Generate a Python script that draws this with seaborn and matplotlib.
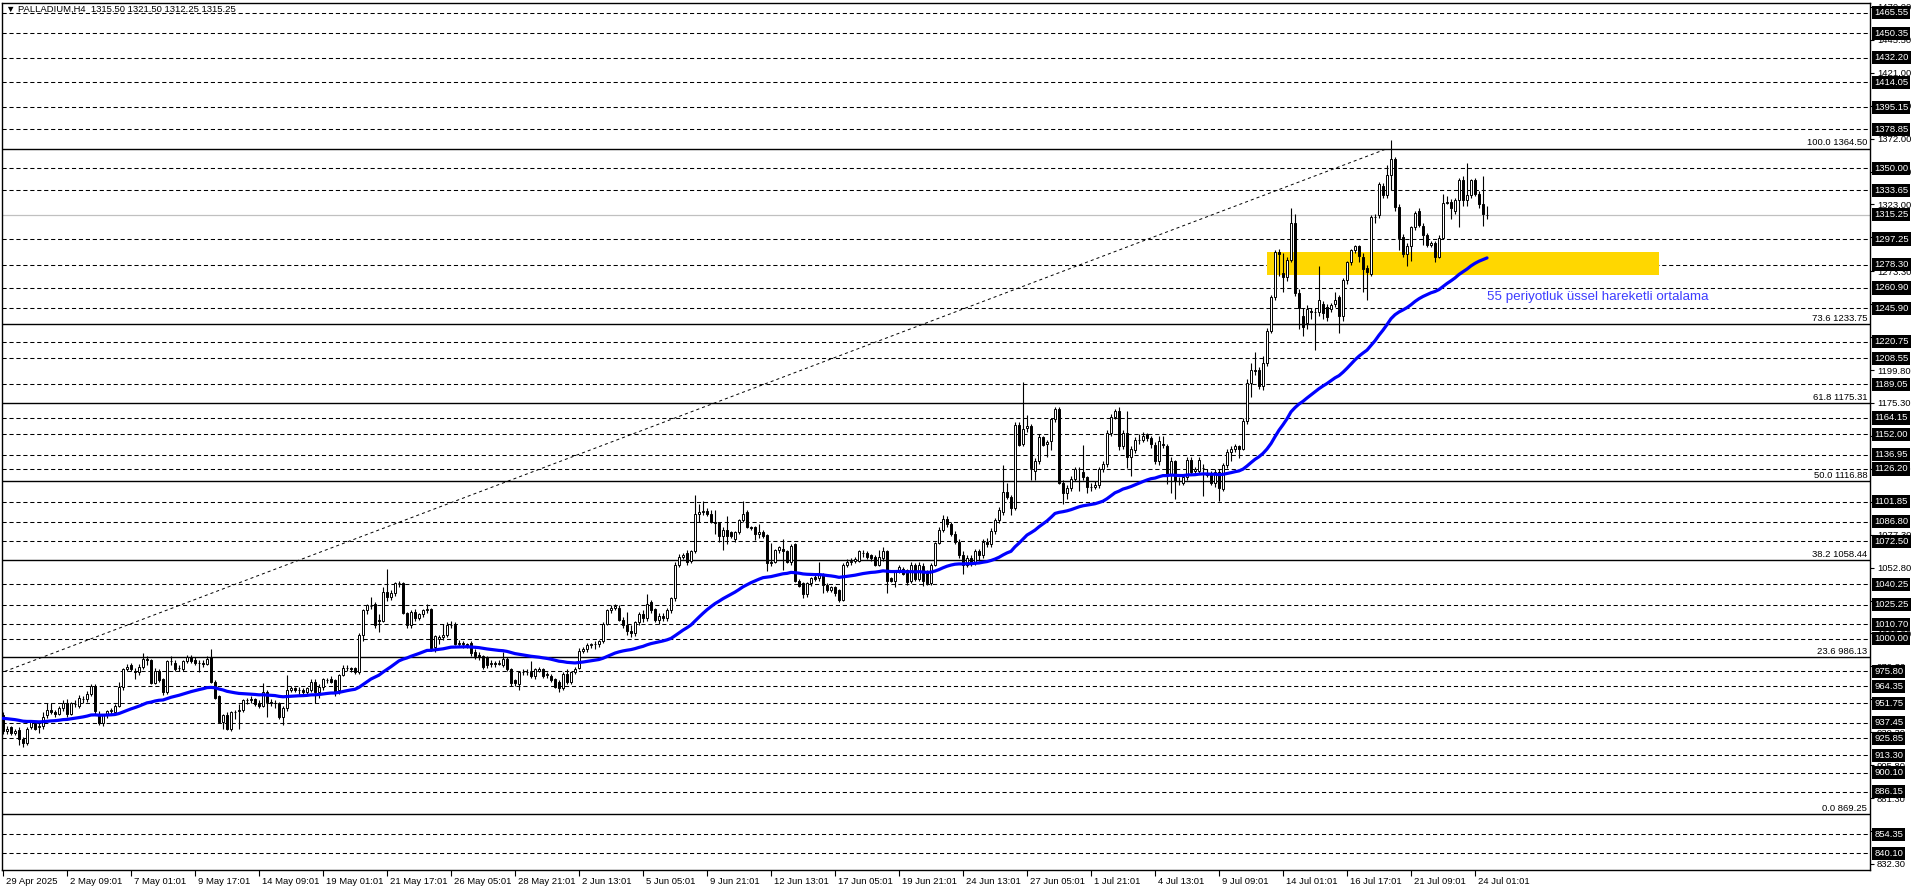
import numpy as np
import pandas as pd
import matplotlib
matplotlib.use('Agg')
import matplotlib.pyplot as plt
import matplotlib.transforms as mtrans
from matplotlib.patches import Rectangle
import seaborn as sns

## H4 bars 29 Apr 2025 -> 24 Jul 2025
bar_open = [
    943, 931, 934, 930, 932, 925, 922, 934, 937, 934,
    935, 943, 947, 945, 944, 948, 952, 944, 951, 950,
    955, 955, 959, 965, 944, 937, 943, 946, 945, 950,
    964, 977, 980, 976, 975, 979, 985, 984, 967, 976,
    970, 960, 983, 982, 978, 977, 983, 986, 984, 982,
    982, 981, 986, 968, 957, 938, 943, 933, 945, 946,
    947, 954, 954, 955, 952, 950, 960, 953, 952, 952,
    942, 948, 962, 963, 962, 962, 960, 962, 968, 960,
    964, 969, 970, 969, 962, 973, 978, 978, 978, 975,
    1003, 1021, 1024, 1026, 1014, 1013, 1035, 1031, 1034, 1041,
    1041, 1019, 1010, 1020, 1015, 1018, 1021, 1022, 994, 1000,
    1001, 1003, 1010, 1010, 996, 997, 996, 997, 990, 988,
    987, 986, 981, 982, 981, 980, 985, 977, 969, 966,
    975, 975, 975, 972, 976, 977, 973, 972, 970, 968,
    963, 974, 968, 975, 978, 991, 992, 995, 996, 996,
    998, 1011, 1021, 1023, 1023, 1014, 1010, 1006, 1004, 1012,
    1018, 1015, 1027, 1022, 1014, 1017, 1015, 1021, 1030, 1055,
    1061, 1064, 1058, 1065, 1093, 1094, 1095, 1093, 1087, 1086,
    1076, 1081, 1079, 1074, 1079, 1088, 1094, 1083, 1083, 1078,
    1079, 1077, 1056, 1057, 1066, 1067, 1065, 1057, 1070, 1043,
    1041, 1033, 1041, 1046, 1045, 1047, 1040, 1036, 1038, 1036,
    1029, 1055, 1057, 1058, 1058, 1064, 1064, 1062, 1061, 1055,
    1060, 1065, 1045, 1043, 1050, 1052, 1051, 1043, 1055, 1044,
    1054, 1050, 1041, 1055, 1071, 1081, 1089, 1085, 1078, 1072,
    1062, 1055, 1060, 1056, 1065, 1062, 1072, 1070, 1080, 1088,
    1094, 1109, 1105, 1097, 1159, 1145, 1157, 1158, 1125, 1132,
    1150, 1145, 1147, 1163, 1171, 1116, 1108, 1112, 1119, 1126,
    1124, 1120, 1113, 1113, 1114, 1126, 1130, 1153, 1165, 1169,
    1143, 1153, 1135, 1140, 1148, 1148, 1152, 1149, 1144, 1132,
    1145, 1143, 1122, 1132, 1117, 1116, 1120, 1133, 1125, 1125,
    1127, 1123, 1123, 1116, 1124, 1111, 1129, 1139, 1141, 1143,
    1141, 1162, 1190, 1200, 1200, 1188, 1205, 1229, 1254, 1288,
    1272, 1269, 1282, 1309, 1257, 1240, 1235, 1244, 1243, 1243,
    1249, 1247, 1245, 1249, 1254, 1240, 1267, 1280, 1289, 1292,
    1284, 1276, 1271, 1314, 1315, 1337, 1330, 1345, 1357, 1321,
    1299, 1286, 1292, 1306, 1318, 1307, 1300, 1293, 1294, 1284,
    1298, 1324, 1325, 1318, 1326, 1341, 1326, 1330, 1341, 1331,
    1323, 1315.5]
bar_high = [
    945, 935, 935, 933, 934, 927, 934, 939, 939, 937,
    945, 952, 952, 947, 950, 954, 955, 953, 954, 958,
    957, 961, 966, 966, 946, 944, 947, 948, 951, 968,
    978, 981, 982, 978, 981, 989, 987, 985, 978, 977,
    971, 984, 987, 984, 980, 984, 988, 988, 986, 984,
    984, 987, 992, 969, 958, 944, 945, 946, 947, 951,
    955, 956, 957, 956, 954, 967, 962, 955, 954, 953,
    950, 973, 965, 964, 964, 963, 964, 970, 970, 966,
    971, 971, 972, 970, 974, 980, 980, 979, 979, 1004,
    1022, 1026, 1031, 1027, 1018, 1038, 1052, 1036, 1042, 1043,
    1042, 1020, 1021, 1022, 1019, 1022, 1026, 1023, 1003, 1003,
    1011, 1012, 1013, 1012, 999, 998, 997, 998, 992, 990,
    988, 987, 984, 983, 984, 990, 986, 978, 970, 976,
    977, 977, 983, 978, 979, 978, 975, 974, 971, 969,
    975, 977, 976, 979, 993, 994, 997, 997, 998, 999,
    1012, 1022, 1025, 1026, 1025, 1016, 1020, 1010, 1013, 1020,
    1021, 1033, 1029, 1023, 1019, 1019, 1023, 1031, 1057, 1063,
    1064, 1066, 1066, 1107, 1100, 1102, 1097, 1096, 1096, 1087,
    1083, 1091, 1080, 1080, 1089, 1102, 1096, 1084, 1084, 1085,
    1081, 1078, 1071, 1067, 1069, 1074, 1066, 1070, 1071, 1044,
    1042, 1042, 1046, 1047, 1057, 1049, 1041, 1039, 1039, 1037,
    1056, 1059, 1060, 1061, 1066, 1066, 1065, 1063, 1062, 1066,
    1068, 1066, 1046, 1051, 1055, 1053, 1052, 1057, 1056, 1057,
    1056, 1051, 1056, 1072, 1083, 1092, 1091, 1087, 1080, 1074,
    1065, 1062, 1062, 1067, 1067, 1074, 1075, 1082, 1090, 1098,
    1129, 1116, 1107, 1161, 1161, 1191, 1166, 1160, 1134, 1152,
    1151, 1148, 1164, 1172, 1172, 1118, 1114, 1121, 1128, 1128,
    1144, 1121, 1116, 1117, 1128, 1132, 1155, 1167, 1171, 1172,
    1155, 1169, 1143, 1150, 1152, 1154, 1153, 1151, 1146, 1151,
    1151, 1145, 1135, 1133, 1120, 1122, 1135, 1135, 1128, 1135,
    1130, 1126, 1125, 1126, 1126, 1131, 1141, 1143, 1145, 1144,
    1164, 1193, 1205, 1213, 1202, 1210, 1231, 1256, 1289, 1290,
    1287, 1284, 1320, 1316, 1260, 1246, 1248, 1246, 1246, 1277,
    1251, 1249, 1250, 1258, 1256, 1268, 1281, 1290, 1293, 1293,
    1287, 1278, 1315, 1316, 1340, 1339, 1352, 1371, 1358, 1323,
    1301, 1294, 1307, 1318, 1320, 1309, 1302, 1296, 1296, 1300,
    1331, 1329, 1327, 1328, 1343, 1344, 1354, 1342, 1343, 1333,
    1344, 1321.5]
bar_low = [
    929, 929, 928, 928, 921, 919, 921, 933, 932, 930,
    933, 941, 944, 942, 943, 946, 942, 943, 949, 948,
    952, 953, 957, 944, 936, 935, 941, 944, 944, 949,
    962, 976, 976, 970, 973, 977, 980, 966, 966, 968,
    958, 959, 980, 976, 976, 976, 982, 982, 980, 975,
    979, 980, 967, 955, 937, 933, 932, 931, 940, 933,
    945, 951, 952, 950, 948, 949, 942, 950, 948, 940,
    936, 946, 960, 960, 959, 957, 958, 960, 952, 956,
    962, 967, 967, 957, 959, 972, 976, 975, 974, 974,
    998, 1018, 1022, 1008, 1005, 1012, 1028, 1029, 1032, 1038,
    1018, 1008, 1008, 1013, 1014, 1016, 1019, 991, 990, 996,
    999, 1001, 1008, 995, 994, 993, 993, 987, 985, 984,
    977, 978, 979, 979, 980, 979, 976, 965, 965, 962,
    973, 973, 971, 970, 975, 971, 971, 968, 963, 960,
    962, 966, 966, 974, 977, 989, 990, 993, 992, 994,
    997, 1010, 1019, 1021, 1013, 1008, 1003, 1001, 1002, 1010,
    1012, 1013, 1019, 1012, 1011, 1013, 1013, 1019, 1028, 1053,
    1059, 1055, 1056, 1064, 1087, 1092, 1091, 1086, 1078, 1072,
    1066, 1070, 1075, 1072, 1078, 1087, 1082, 1081, 1073, 1075,
    1075, 1050, 1054, 1056, 1064, 1051, 1056, 1055, 1042, 1038,
    1030, 1031, 1039, 1043, 1043, 1034, 1035, 1035, 1032, 1027,
    1028, 1053, 1055, 1056, 1057, 1061, 1059, 1058, 1054, 1054,
    1058, 1034, 1042, 1038, 1049, 1047, 1040, 1041, 1043, 1043,
    1039, 1040, 1040, 1054, 1070, 1079, 1083, 1076, 1070, 1060,
    1048, 1053, 1054, 1055, 1058, 1060, 1068, 1068, 1078, 1086,
    1092, 1104, 1092, 1096, 1143, 1143, 1154, 1118, 1118, 1130,
    1143, 1135, 1140, 1161, 1115, 1100, 1104, 1110, 1117, 1110,
    1118, 1108, 1110, 1111, 1112, 1124, 1128, 1151, 1163, 1140,
    1141, 1127, 1121, 1138, 1145, 1146, 1147, 1142, 1130, 1129,
    1142, 1115, 1108, 1104, 1114, 1114, 1118, 1122, 1123, 1123,
    1106, 1120, 1114, 1113, 1102, 1110, 1127, 1132, 1139, 1134,
    1140, 1160, 1180, 1196, 1186, 1185, 1203, 1227, 1252, 1270,
    1258, 1266, 1280, 1255, 1230, 1225, 1230, 1238, 1215, 1240,
    1238, 1236, 1243, 1247, 1227, 1236, 1264, 1278, 1287, 1280,
    1258, 1252, 1270, 1309, 1313, 1328, 1328, 1334, 1318, 1289,
    1284, 1277, 1281, 1304, 1306, 1293, 1291, 1291, 1280, 1283,
    1297, 1323, 1312, 1316, 1306, 1322, 1322, 1328, 1329, 1320,
    1307, 1312.25]
bar_close = [
    931, 933, 930, 931, 925, 922, 933, 938, 933, 935,
    942, 947, 945, 944, 948, 952, 944, 952, 951, 956,
    955, 959, 965, 946, 937, 943, 946, 947, 950, 964,
    977, 979, 977, 975, 979, 985, 984, 967, 976, 969,
    960, 983, 983, 977, 978, 983, 986, 983, 982, 982,
    981, 985, 968, 956, 938, 943, 933, 945, 945, 947,
    954, 954, 955, 951, 950, 960, 953, 952, 952, 942,
    948, 962, 963, 962, 962, 960, 963, 968, 960, 964,
    970, 969, 968, 960, 973, 978, 978, 977, 975, 1003,
    1021, 1025, 1024, 1010, 1013, 1035, 1031, 1034, 1041, 1041,
    1019, 1010, 1020, 1015, 1018, 1021, 1022, 993, 1002, 1001,
    1003, 1010, 1010, 996, 997, 996, 995, 989, 987, 986,
    979, 980, 982, 981, 982, 985, 977, 967, 967, 975,
    975, 975, 972, 977, 977, 972, 974, 969, 964, 963,
    974, 968, 975, 977, 991, 992, 995, 996, 996, 998,
    1011, 1021, 1023, 1024, 1014, 1010, 1006, 1004, 1012, 1018,
    1015, 1026, 1021, 1014, 1017, 1015, 1021, 1030, 1055, 1061,
    1062, 1057, 1065, 1093, 1094, 1095, 1093, 1087, 1086, 1076,
    1081, 1076, 1076, 1079, 1088, 1093, 1083, 1082, 1078, 1079,
    1076, 1056, 1057, 1066, 1068, 1065, 1057, 1069, 1043, 1039,
    1033, 1041, 1045, 1044, 1048, 1040, 1036, 1038, 1034, 1029,
    1055, 1057, 1058, 1059, 1065, 1064, 1061, 1060, 1055, 1061,
    1065, 1043, 1043, 1050, 1053, 1048, 1042, 1055, 1044, 1055,
    1043, 1041, 1055, 1071, 1081, 1089, 1085, 1078, 1072, 1062,
    1055, 1060, 1056, 1065, 1062, 1072, 1070, 1080, 1088, 1096,
    1109, 1105, 1097, 1159, 1144, 1156, 1158, 1127, 1132, 1150,
    1144, 1146, 1163, 1171, 1116, 1108, 1112, 1119, 1126, 1126,
    1120, 1113, 1113, 1114, 1126, 1130, 1153, 1165, 1169, 1143,
    1153, 1135, 1141, 1148, 1148, 1151, 1149, 1145, 1132, 1147,
    1144, 1122, 1132, 1117, 1117, 1120, 1133, 1124, 1126, 1133,
    1127, 1122, 1116, 1124, 1112, 1129, 1139, 1141, 1143, 1141,
    1162, 1190, 1200, 1199, 1188, 1205, 1229, 1254, 1288, 1286,
    1269, 1282, 1309, 1257, 1246, 1232, 1245, 1243, 1243, 1252,
    1242, 1239, 1248, 1252, 1240, 1267, 1280, 1289, 1292, 1285,
    1275, 1273, 1314, 1314, 1338, 1330, 1345, 1357, 1321, 1298,
    1286, 1292, 1306, 1317, 1308, 1300, 1293, 1294, 1284, 1298,
    1324, 1325, 1320, 1326, 1341, 1326, 1330, 1341, 1331, 1323,
    1316, 1315.25]

ema_seed = 941      # EMA value at the first visible bar
ema_period = 55

## price levels drawn as dashed lines (black price boxes on the right)
dash_levels = [1465.55, 1450.35, 1432.20, 1414.05, 1395.15, 1378.85, 1350.00,
               1333.65, 1297.25, 1278.30, 1260.90, 1245.90, 1220.75, 1208.55,
               1189.05, 1164.15, 1152.00, 1136.95, 1126.20, 1101.85, 1086.80,
               1072.50, 1040.25, 1025.25, 1010.70, 1000.00, 975.80, 964.35,
               951.75, 937.45, 925.85, 913.30, 900.10, 886.15, 854.35, 840.10]
last_price = 1315.25

## fibonacci retracement
fib_ratio = ['0.0', '23.6', '38.2', '50.0', '61.8', '73.6', '100.0']
fib_price = [869.25, 986.13, 1058.44, 1116.88, 1175.31, 1233.75, 1364.50]
fib_bars = [-94, 346]

## support zone
zone_bars = [316, 414]
zone_prices = [1270.5, 1287.6]

axis_ticks = [832.30, 856.80, 881.30, 905.80, 930.30, 954.80, 979.30, 1003.80,
              1028.30, 1052.80, 1077.30, 1101.80, 1126.30, 1150.80, 1175.30,
              1199.80, 1224.30, 1248.80, 1273.30, 1298.50, 1323.00, 1347.50,
              1372.00, 1396.50, 1421.00, 1445.50, 1470.00]

date_labels = ['29 Apr 2025', '2 May 09:01', '7 May 01:01', '9 May 17:01',
               '14 May 09:01', '19 May 01:01', '21 May 17:01', '26 May 05:01',
               '28 May 21:01', '2 Jun 13:01', '5 Jun 05:01', '9 Jun 21:01',
               '12 Jun 13:01', '17 Jun 05:01', '19 Jun 21:01', '24 Jun 13:01',
               '27 Jun 05:01', '1 Jul 21:01', '4 Jul 13:01', '9 Jul 09:01',
               '14 Jul 01:01', '16 Jul 17:01', '21 Jul 09:01', '24 Jul 01:01']
label_step = 16   # bars between two date labels

title = '\u25bc PALLADIUM,H4  1315.50 1321.50 1312.25 1315.25'
ema_note = '55 periyotluk üssel hareketli ortalama'

## style
sns.set_style('white')
plt.rcParams['font.family'] = ['Liberation Sans', 'DejaVu Sans']
plt.rcParams['lines.scale_dashes'] = False
small = 6.8

W, H = 1916, 888
fig = plt.figure(figsize=(W / 100, H / 100), dpi=100)
left, right, top, bottom = 2, 1870, 3, 870
ax = fig.add_axes([left / W, (H - bottom) / H, (right - left) / W, (bottom - top) / H])

idx = np.arange(len(bar_close))
o = np.array(bar_open, dtype=float)
c = np.array(bar_close, dtype=float)

ax.set_xlim(-0.25, 466.75)
ax.set_ylim(827.8, 1472.9)

## horizontal levels
for lv in dash_levels:
    ax.axhline(lv, color='black', lw=0.75, ls=(0, (3.0, 2.0)), zorder=1)
ax.axhline(last_price, color='#c0c0c0', lw=0.9, zorder=1)
for p in fib_price:
    ax.axhline(p, color='black', lw=1.0, zorder=1)

## fibo trend line
ax.plot(fib_bars, [fib_price[0], fib_price[-1]], color='black', lw=0.7,
        ls=(0, (2.2, 2.2)), zorder=1.2)

## support zone
ax.add_patch(Rectangle((zone_bars[0], zone_prices[0]), zone_bars[1] - zone_bars[0],
                       zone_prices[1] - zone_prices[0], facecolor='#ffd700',
                       edgecolor='none', zorder=1.5))

## candles
ax.vlines(idx, bar_low, bar_high, color='black', lw=0.8, zorder=3)
body_col = np.where(c >= o, 'white', 'black')
ax.bar(idx, np.abs(c - o), bottom=np.minimum(o, c), width=0.55, color=body_col,
       edgecolor='black', linewidth=0.7, zorder=4)

## 55 EMA
ema = pd.Series([ema_seed] + list(c)).ewm(span=ema_period, adjust=False).mean().iloc[1:].to_numpy()
sns.lineplot(x=idx, y=ema, ax=ax, color='#0000ff', linewidth=2.3, sort=False, zorder=5)
ax.text(371, 1254, ema_note, color='#3c3cff', fontsize=9.6, va='center', ha='left', zorder=6)

## axes
ax.set_xlabel('')
ax.set_ylabel('')
for s in ax.spines.values():
    s.set_color('black')
    s.set_linewidth(1.0)

ax.yaxis.tick_right()
ax.set_yticks(axis_ticks)
ax.set_yticklabels(['%.2f' % t for t in axis_ticks])
ax.tick_params(axis='y', right=True, left=False, labelright=True, labelleft=False,
               length=3, width=0.8, pad=2, labelsize=small, colors='black', direction='out')

tick_pos = [k * label_step for k in range(len(date_labels))]
ax.set_xticks(tick_pos)
ax.set_xticklabels(date_labels)
ax.tick_params(axis='x', bottom=True, length=4, width=0.8, pad=1, labelsize=small,
               colors='black', direction='out')
shift = mtrans.ScaledTranslation(2 / 72, 0, fig.dpi_scale_trans)
for lab in ax.get_xticklabels():
    lab.set_ha('left')
    lab.set_transform(lab.get_transform() + shift)

## black price boxes on the right scale
box_shift = mtrans.ScaledTranslation(3 / 72, 0, fig.dpi_scale_trans)
ytr = ax.get_yaxis_transform() + box_shift
for lv in dash_levels + [last_price]:
    ax.text(1.0, lv, '%.2f' % lv, transform=ytr, ha='left', va='center',
            fontsize=small, color='white', clip_on=False, zorder=10,
            bbox=dict(facecolor='black', edgecolor='none', pad=1.5))

## fibo labels
lab_shift = mtrans.ScaledTranslation(-2 / 72, 1 / 72, fig.dpi_scale_trans)
for r, p in zip(fib_ratio, fib_price):
    ax.text(1.0, p, '%s %.2f' % (r, p), transform=ax.get_yaxis_transform() + lab_shift,
            ha='right', va='bottom', fontsize=small, color='black', zorder=6)

fig.text(6 / W, 1 - 9 / H, title, fontsize=small, va='center', ha='left', color='black')

fig.savefig('out.png', dpi=100, facecolor='white')
